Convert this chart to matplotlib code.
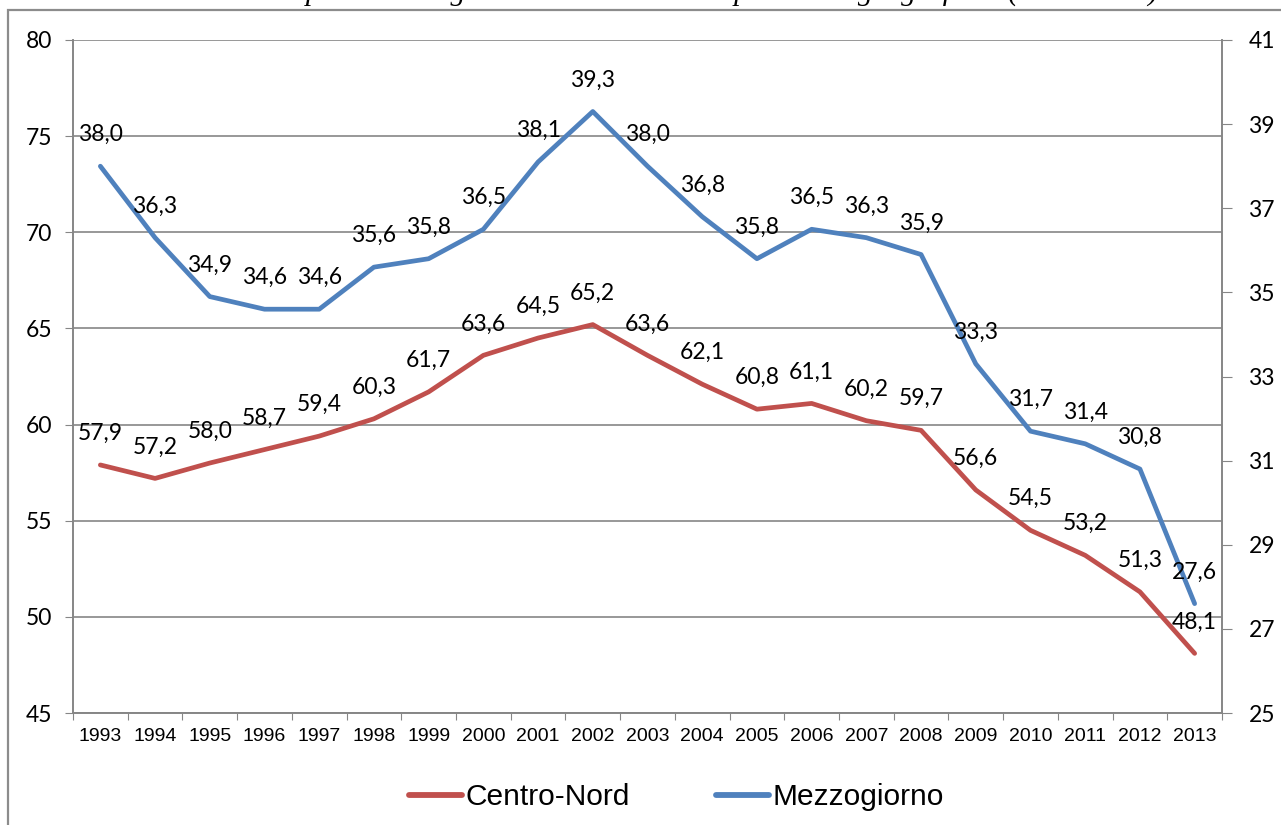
import matplotlib
matplotlib.use('Agg')
import matplotlib.pyplot as plt
from matplotlib.patches import Rectangle

# Data
years = [str(y) for y in range(1993, 2014)]
centro_nord = [57.9, 57.2, 58.0, 58.7, 59.4, 60.3, 61.7, 63.6, 64.5, 65.2, 63.6,
               62.1, 60.8, 61.1, 60.2, 59.7, 56.6, 54.5, 53.2, 51.3, 48.1]
mezzogiorno = [38.0, 36.3, 34.9, 34.6, 34.6, 35.6, 35.8, 36.5, 38.1, 39.3, 38.0,
               36.8, 35.8, 36.5, 36.3, 35.9, 33.3, 31.7, 31.4, 30.8, 27.6]
left_ticks = [45, 50, 55, 60, 65, 70, 75, 80]
right_ticks = [25, 27, 29, 31, 33, 35, 37, 39, 41]

RED = '#C0504D'
BLUE = '#4F81BD'
GRID = '#868686'
LABEL_FONT = ['Lato', 'DejaVu Sans']

W, H = 1281, 825
fig = plt.figure(figsize=(W / 100, H / 100), dpi=100)
ax1 = fig.add_axes([73 / W, 1 - 713 / H, 1149 / W, 673 / H])
ax2 = ax1.twinx()

x = list(range(len(years)))

ax1.plot(x, centro_nord, color=RED, lw=3.4, solid_capstyle='round',
         solid_joinstyle='round', label='Centro-Nord', zorder=3)
ax2.plot(x, mezzogiorno, color=BLUE, lw=3.4, solid_capstyle='round',
         solid_joinstyle='round', label='Mezzogiorno', zorder=3)

# data labels (drawn on top axes so they stay above both lines)
for xi, v in zip(x, centro_nord):
    ax2.annotate(f'{v:.1f}'.replace('.', ','), (xi, v), xycoords=ax1.transData,
                 xytext=(0, 18), textcoords='offset points', ha='center',
                 va='baseline', fontsize=16.5, family=LABEL_FONT, zorder=5)
for xi, v in zip(x, mezzogiorno):
    ax2.annotate(f'{v:.1f}'.replace('.', ','), (xi, v),
                 xytext=(0, 18), textcoords='offset points', ha='center',
                 va='baseline', fontsize=16.5, family=LABEL_FONT, zorder=5)

# axes
ax1.set_xlim(-0.5, len(years) - 0.5)
ax1.set_ylim(45, 80)
ax2.set_ylim(25, 41)
ax1.set_yticks(left_ticks)
ax2.set_yticks(right_ticks)
ax1.yaxis.grid(True, color=GRID, lw=1.2)
ax1.set_axisbelow(True)

ax1.set_xticks([i - 0.5 for i in range(len(years) + 1)])
ax1.set_xticklabels([])
ax1.set_xticks(x, minor=True)
ax1.set_xticklabels(years, minor=True, fontsize=14, family='Liberation Sans')
ax1.tick_params(axis='x', which='major', direction='out', length=5, color=GRID)
ax1.tick_params(axis='x', which='minor', length=0, pad=11)
ax1.tick_params(axis='y', direction='out', length=6, color=GRID, pad=9,
                labelsize=16.5)
ax2.tick_params(axis='y', direction='out', length=7, color=GRID, pad=12,
                labelsize=16.5)
for lab in ax1.get_yticklabels() + ax2.get_yticklabels():
    lab.set_family(LABEL_FONT)

for ax in (ax1, ax2):
    ax.spines['top'].set_visible(False)
    for s in ('left', 'right', 'bottom'):
        ax.spines[s].set_color(GRID)
        ax.spines[s].set_linewidth(1.2)

# legend
h1, l1 = ax1.get_legend_handles_labels()
h2, l2 = ax2.get_legend_handles_labels()
leg = fig.legend(h1 + h2, l1 + l2, loc='center',
                 bbox_to_anchor=(676.5 / W, 1 - 797 / H), ncol=2, frameon=False,
                 prop={'family': 'Liberation Sans', 'size': 21.5},
                 handlelength=1.75, handletextpad=0.12, columnspacing=2.9,
                 borderpad=0)
for ln in leg.get_lines():
    ln.set_linewidth(4.2)

# cropped title at the very top
fig.text(651 / W, 1 - 0.5 / H,
         'Tasso di occupazione dei giovani laureati nelle ripartizioni geografiche (1993-2013)',
         ha='center', va='baseline', fontsize=21.5, style='italic',
         family='Liberation Serif')

# outer chart border
fig.patches.append(Rectangle((8 / W, -0.1), 1.2, (H - 10) / H + 0.1,
                             transform=fig.transFigure, fill=False,
                             edgecolor='#8C8C8C', lw=1.6))

fig.savefig('out.png', dpi=100)
